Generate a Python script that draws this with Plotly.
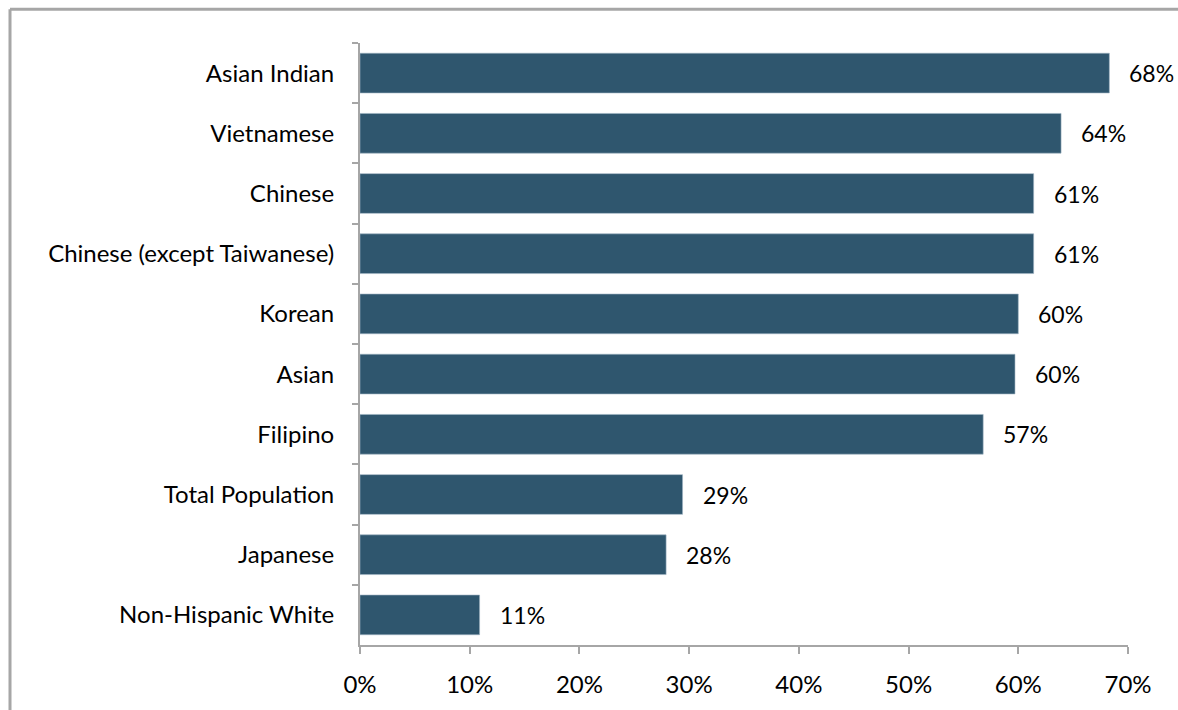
import plotly.graph_objects as go

categories = ["Asian Indian", "Vietnamese", "Chinese", "Chinese (except Taiwanese)",
              "Korean", "Asian", "Filipino", "Total Population", "Japanese",
              "Non-Hispanic White"]
values = [0.683, 0.639, 0.614, 0.614, 0.600, 0.597, 0.568, 0.294, 0.279, 0.109]
labels = ["68%", "64%", "61%", "61%", "60%", "60%", "57%", "29%", "28%", "11%"]

BAR = "#2F566E"
AXIS = "#A6A6A6"
FONT = "Lato"
FS = 24

fig = go.Figure()
fig.add_trace(go.Bar(
    y=categories, x=values, orientation="h",
    marker=dict(color=BAR, line=dict(color="#9FB3C2", width=0.6)),
    width=0.66, hoverinfo="skip",
))

for c, v, t in zip(categories, values, labels):
    fig.add_annotation(x=v, y=c, text=t, showarrow=False, xanchor="left",
                       xshift=18, font=dict(family=FONT, size=FS - 1, color="#000000"))

W, H = 1178, 710
L, T = 360, 43
pw, ph = 768, 605
R, B = W - L - pw, H - T - ph
bx = (10 - L) / pw
by = 1 + (T - 9) / ph

fig.add_shape(type="line", xref="paper", yref="paper", x0=bx, x1=bx, y0=-0.3, y1=by,
              line=dict(color=AXIS, width=3))
fig.add_shape(type="line", xref="paper", yref="paper", x0=bx, x1=1.2, y0=by, y1=by,
              line=dict(color=AXIS, width=3))

fig.update_layout(
    width=W, height=H,
    margin=dict(l=L, r=R, t=T, b=B),
    paper_bgcolor="white", plot_bgcolor="white",
    showlegend=False,
    font=dict(family=FONT, size=FS, color="#000000"),
)
fig.update_yaxes(
    type="category", autorange="reversed",
    showline=True, linecolor=AXIS, linewidth=2,
    ticks="outside", ticklen=6, tickcolor=AXIS, tickwidth=2,
    tickson="boundaries", showgrid=False, ticklabelstandoff=19,
)
fig.update_xaxes(
    range=[0, 0.7], dtick=0.1, tickformat=".0%",
    showline=True, linecolor=AXIS, linewidth=2,
    ticks="outside", ticklen=7, tickcolor=AXIS, tickwidth=2,
    showgrid=False, zeroline=False, ticklabelstandoff=10,
)

fig.write_html(
    "out.html",
    config={"displayModeBar": False, "staticPlot": True},
    post_script="document.body.style.margin='0px';document.body.style.overflow='hidden';",
)
